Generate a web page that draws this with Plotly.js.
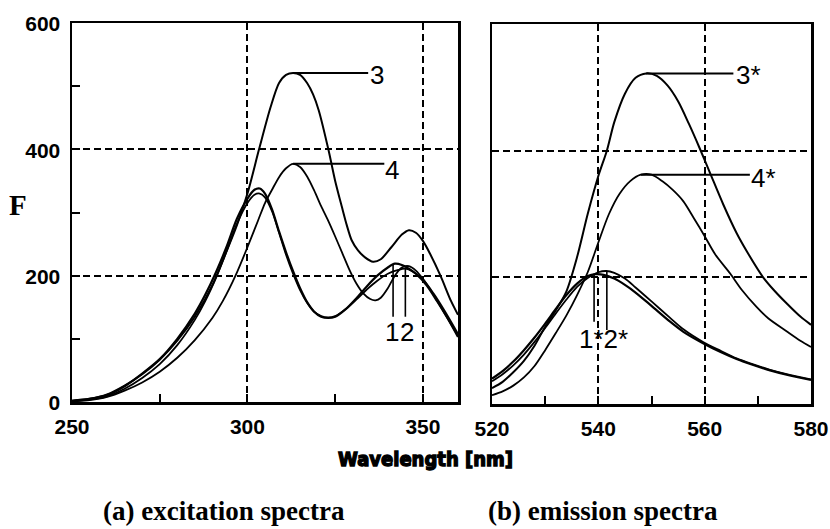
<!DOCTYPE html>
<html>
<head>
<meta charset="utf-8">
<script src="https://cdn.plot.ly/plotly-3.0.1.min.js"></script>
<style>
  html, body { margin: 0; padding: 0; background: #fff; }
  #chart { width: 830px; height: 529px; }
</style>
</head>
<body>
<div id="chart"></div>
<script>
// ---- (a) excitation spectra: wavelength [nm] and fluorescence F ----
const ex1Wl = [250,255,260,265,270,275,280,285,288,291,294,297,300,302,303.5,305,307,309,311,313,315,317,319,321,323,325,328,331,334,337,340,342,344,346,348,351,354,357,360];
const ex1F  = [2,5,11,25,45,68,100,140,170,205,245,290,322,336,338,330,305,270,237,207,180,158,143,135,133,135,147,164,183,200,213,219,217,211,203,185,160,133,103];

const ex2Wl = [250,255,260,265,270,275,280,285,288,291,294,297,300,302,303.5,305,307,309,311,313,315,317,319,321,323,325,328,331,334,337,340,343,345,347,350,353,356,360];
const ex2F  = [1,4,9,21,38,60,90,130,160,196,238,282,315,328,330,324,302,268,233,203,177,157,143,136,134,136,147,162,178,192,203,209,211,207,194,172,146,108];

const ex3Wl = [250,255,260,265,270,275,280,285,290,294,297,300,303.3,306.6,309,311,313,315,317,318.7,320.3,323.1,325,326.9,328.3,329.7,331.5,333.5,335.8,338,341,344,346,348,350,352,355,358,360];
const ex3F  = [2,5,12,26,44,67,97,135,185,238,280,330,400,467,505,518,521,518,505,487,462,399,350,309,280,256,240,229,222,226,245,265,272,268,255,235,200,160,138];

const ex4Wl = [250,255,260,265,270,275,280,285,290,293,296.6,300,303,305,307,309,311,313,315,317,319,321,323,325,327,329,331,333,335,336.5,338,340,342,344,346,348,350,353,356,360];
const ex4F  = [1,3,8,18,31,48,70,98,133,160,200,245,287,315,336,356,370,377,372,357,335,310,287,262,236,210,188,172,163,161,165,180,200,213,215,208,195,170,142,105];

// ---- (b) emission spectra ----
const em1Wl = [520,522,524,526,528,530,532,534,536,538,539.5,541,543,545,547,550,553.5,556,559.7,563,566,569,572.3,576,580];
const em1F  = [40,52,67,85,105,127,150,172,190,202,205,204,198,188,176,155,130,114,96,82,71,62,53,45,38];

const em2Wl = [520,522,524,526,528,530,532,534,536,538,540,541.5,543,545,547,550,553.5,556,559.7,563,566,569,572.3,576,580];
const em2F  = [36,47,61,78,98,120,143,165,185,199,208,210,207,198,184,162,136,118,98,84,72,63,54,46,39];

const em3Wl = [520,522,524,526,528,530,532,534,536,538,540,541.6,543,545,547,549,551,553,555,557,559,561,563.5,566,568,571,573,575.4,578,580];
const em3F  = [25,35,50,68,92,122,148,178,232,300,360,400,445,490,515,522,518,503,478,443,405,365,315,270,240,200,180,159,138,125];

const em4Wl = [520,522,524,526,528,530,532,534,536,538,540,542,544,546,548,550,552,554,556,558,560,562,564.8,567,569.8,572,575.4,578,580];
const em4F  = [14,20,29,42,60,85,112,140,172,208,255,300,332,352,362,362,352,338,320,293,265,236,206,180,153,135,115,100,90];

// ---- axis ticks ----
const exTicks = [250, 300, 350];
const emTicks = [520, 540, 560, 580];
const fTicks = [0, 200, 400, 600];
const fTickText = ['0', '200', '400', '600'];

// ---- curve labels ----
// horizontal leaders run from a curve's peak to leadEnd (x); vertical ones drop from the curve at leadX to leadEnd (y)
const curveLabels = [
  {text: '3',  ax: 'x',  wl: ex3Wl, f: ex3F, kind: 'h', leadEnd: 334.4, tx: 337.0, ty: 518},
  {text: '4',  ax: 'x',  wl: ex4Wl, f: ex4F, kind: 'h', leadEnd: 339.0, tx: 341.3, ty: 368},
  {text: '1',  ax: 'x',  wl: ex1Wl, f: ex1F, kind: 'v', leadX: 341.5, leadEnd: 135, tx: 341.2, ty: 111},
  {text: '2',  ax: 'x',  wl: ex2Wl, f: ex2F, kind: 'v', leadX: 345.0, leadEnd: 135, tx: 345.6, ty: 111},
  {text: '3*', ax: 'x2', wl: em3Wl, f: em3F, kind: 'h', leadEnd: 565.4, tx: 568.3, ty: 519},
  {text: '4*', ax: 'x2', wl: em4Wl, f: em4F, kind: 'h', leadEnd: 568.5, tx: 571.0, ty: 357},
  {text: '',   ax: 'x2', wl: em1Wl, f: em1F, kind: 'v', leadX: 539.2, leadEnd: 130},
  {text: '1*2*', ax: 'x2', wl: em2Wl, f: em2F, kind: 'v', leadX: 541.6, leadEnd: 117, tx: 540.9, ty: 103}
];

function interp(xs, ys, x) {
  for (let i = 1; i < xs.length; i++) {
    if (x <= xs[i]) {
      const t = (x - xs[i - 1]) / (xs[i] - xs[i - 1]);
      return ys[i - 1] + t * (ys[i] - ys[i - 1]);
    }
  }
  return ys[ys.length - 1];
}

function curve(wl, f, xaxis, yaxis, width) {
  return {
    x: wl, y: f, xaxis: xaxis, yaxis: yaxis,
    type: 'scatter', mode: 'lines',
    line: {color: '#000', width: width, shape: 'spline', smoothing: 0.8},
    hoverinfo: 'skip', showlegend: false
  };
}

const traces = [
  curve(ex1Wl, ex1F, 'x', 'y', 2.2),
  curve(ex2Wl, ex2F, 'x', 'y', 1.8),
  curve(ex3Wl, ex3F, 'x', 'y', 2),
  curve(ex4Wl, ex4F, 'x', 'y', 1.8),
  curve(em1Wl, em1F, 'x2', 'y2', 2.2),
  curve(em2Wl, em2F, 'x2', 'y2', 1.8),
  curve(em3Wl, em3F, 'x2', 'y2', 2),
  curve(em4Wl, em4F, 'x2', 'y2', 1.8)
];

const shapes = [];
const annotations = [];
const labelFont = {family: 'Liberation Sans, Arial, sans-serif', size: 26, color: '#000'};

curveLabels.forEach(function (c) {
  const yref = c.ax === 'x' ? 'y' : 'y2';
  if (c.kind === 'h') {
    let k = 0;
    for (let i = 1; i < c.f.length; i++) if (c.f[i] > c.f[k]) k = i;
    shapes.push({type: 'line', xref: c.ax, yref: yref,
      x0: c.wl[k], y0: c.f[k], x1: c.leadEnd, y1: c.f[k],
      line: {color: '#000', width: 2}});
  } else {
    const top = interp(c.wl, c.f, c.leadX);
    shapes.push({type: 'line', xref: c.ax, yref: yref,
      x0: c.leadX, y0: top, x1: c.leadX, y1: c.leadEnd,
      line: {color: '#000', width: 1.6}});
  }
  if (c.text) {
    annotations.push({xref: c.ax, yref: yref, x: c.tx, y: c.ty, text: c.text,
      showarrow: false, xanchor: 'center', yanchor: 'middle', font: labelFont});
  }
});

// panel captions and shared axis title
annotations.push(
  {xref: 'paper', yref: 'paper', x: 17.5 / 830, y: 1 - 205 / 529, text: 'F', showarrow: false,
   xanchor: 'center', yanchor: 'middle',
   font: {family: 'Liberation Serif, Times New Roman, serif', size: 29, color: '#000', weight: 'bold'}},
  {xref: 'paper', yref: 'paper', x: 425 / 830, y: 1 - 459 / 529, text: 'Wavelength [nm]', showarrow: false,
   xanchor: 'center', yanchor: 'middle',
   font: {family: 'DejaVu Sans Condensed, DejaVu Sans, sans-serif', size: 20, color: '#000', weight: 'bold'}},
  {xref: 'paper', yref: 'paper', x: 224 / 830, y: 1 - 511 / 529, text: '(a) excitation spectra', showarrow: false,
   xanchor: 'center', yanchor: 'middle',
   font: {family: 'Liberation Serif, Times New Roman, serif', size: 27, color: '#000', weight: 'bold'}},
  {xref: 'paper', yref: 'paper', x: 603 / 830, y: 1 - 511 / 529, text: '(b) emission spectra', showarrow: false,
   xanchor: 'center', yanchor: 'middle',
   font: {family: 'Liberation Serif, Times New Roman, serif', size: 27, color: '#000', weight: 'bold'}}
);

const tickFont = {family: 'Liberation Sans, Arial, sans-serif', size: 21, color: '#000', weight: 'bold'};
const frame = {showline: true, mirror: true, linecolor: '#000', linewidth: 2.5, zeroline: false};
const grid = {showgrid: true, gridcolor: '#000', gridwidth: 2, griddash: '7px,4px'};

const layout = {
  width: 830, height: 529,
  margin: {l: 0, r: 0, t: 0, b: 0},
  paper_bgcolor: '#fff', plot_bgcolor: '#fff',
  showlegend: false,
  xaxis: Object.assign({}, frame, grid, {
    domain: [72 / 830, 458 / 830], range: [250, 360],
    tickmode: 'array', tickvals: exTicks, ticktext: exTicks.map(String),
    ticks: 'inside', ticklen: 8, tickwidth: 2, tickcolor: '#000',
    minor: {tickmode: 'array', tickvals: [275, 325], ticks: 'inside', ticklen: 8, tickwidth: 2, tickcolor: '#000', showgrid: false},
    tickfont: tickFont, ticklabelstandoff: 4, ticklabeloverflow: 'allow', anchor: 'y'
  }),
  yaxis: Object.assign({}, frame, grid, {
    domain: [1 - 402 / 529, 1 - 23 / 529], range: [0, 600],
    tickmode: 'array', tickvals: fTicks, ticktext: fTickText,
    ticks: 'inside', ticklen: 8, tickwidth: 2, tickcolor: '#000',
    minor: {tickmode: 'array', tickvals: [100, 300, 500], ticks: 'inside', ticklen: 8, tickwidth: 2, tickcolor: '#000', showgrid: false},
    tickfont: tickFont, ticklabelstandoff: 5, ticklabelshift: 1, ticklabeloverflow: 'allow', anchor: 'x'
  }),
  xaxis2: Object.assign({}, frame, grid, {
    domain: [492 / 830, 811 / 830], range: [520, 580],
    tickmode: 'array', tickvals: emTicks, ticktext: emTicks.map(String),
    ticks: 'inside', ticklen: 8, tickwidth: 2, tickcolor: '#000',
    minor: {tickmode: 'array', tickvals: [530, 550, 570], ticks: 'inside', ticklen: 8, tickwidth: 2, tickcolor: '#000', showgrid: false},
    tickfont: tickFont, ticklabelstandoff: 4, ticklabeloverflow: 'allow', anchor: 'y2'
  }),
  yaxis2: Object.assign({}, frame, grid, {
    domain: [1 - 404 / 529, 1 - 24 / 529], range: [0, 600],
    tickmode: 'array', tickvals: fTicks, showticklabels: false, ticks: '',
    anchor: 'x2'
  }),
  shapes: shapes,
  annotations: annotations
};

Plotly.newPlot('chart', traces, layout, {staticPlot: true, displayModeBar: false}).then(function (gd) {
  // heavy outline for the shared axis title
  gd.querySelectorAll('.annotation-text').forEach(function (t) {
    if (t.textContent === 'Wavelength [nm]') {
      t.style.stroke = '#000';
      t.style.strokeWidth = '1.3px';
    }
  });
});
</script>
</body>
</html>
